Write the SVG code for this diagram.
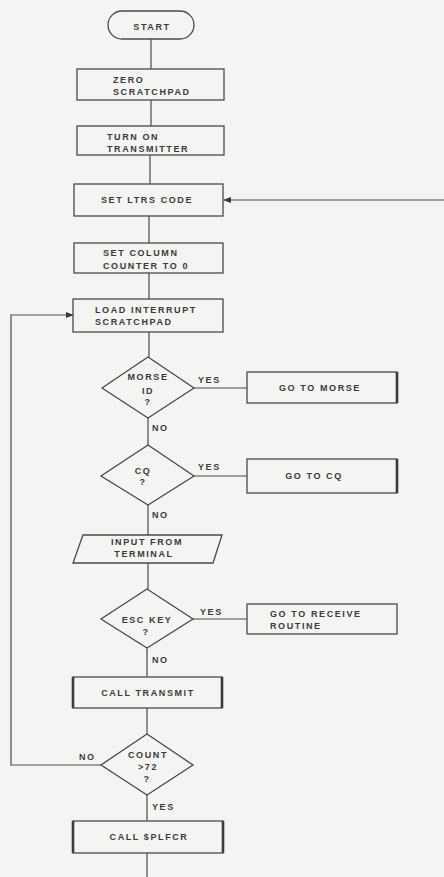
<svg xmlns="http://www.w3.org/2000/svg" width="444" height="877" viewBox="0 0 444 877">
<defs>
<style>
.bg{fill:#f4f4f2}
.n{fill:none;stroke:#4a4a4a;stroke-width:1.3}
.thick{stroke:#3a3a3a;stroke-width:2.6;fill:none}
.c{fill:none;stroke:#4a4a4a;stroke-width:1.2}
text{font-family:"Liberation Sans",Arial,sans-serif;font-size:9px;font-weight:bold;fill:#3a3a3a;letter-spacing:1.6px}
.m{text-anchor:middle}
</style>
<marker id="ah" markerWidth="8" markerHeight="6" refX="7" refY="3" orient="auto" markerUnits="userSpaceOnUse">
<path d="M0,0 L8,3 L0,6 Z" fill="#3a3a3a"/>
</marker>
</defs>
<rect class="bg" x="0" y="0" width="444" height="877"/>

<g id="connectors">
<line class="c" x1="151" y1="39" x2="151" y2="69"/>
<line class="c" x1="151" y1="100" x2="151" y2="126"/>
<line class="c" x1="150" y1="155" x2="150" y2="184"/>
<line class="c" x1="149" y1="216" x2="149" y2="243"/>
<line class="c" x1="149" y1="273" x2="149" y2="299"/>
<line class="c" x1="149" y1="332" x2="149" y2="357"/>
<line class="c" x1="194" y1="388" x2="247" y2="388"/>
<line class="c" x1="148" y1="418" x2="148" y2="445"/>
<line class="c" x1="194" y1="476" x2="247" y2="476"/>
<line class="c" x1="148" y1="505" x2="148" y2="535"/>
<line class="c" x1="148" y1="563" x2="148" y2="589"/>
<line class="c" x1="193" y1="619" x2="247" y2="619"/>
<line class="c" x1="147" y1="648" x2="147" y2="677"/>
<line class="c" x1="147" y1="708" x2="147" y2="734"/>
<polyline class="c" points="101,765 11,765 11,315 73,315" marker-end="url(#ah)"/>
<line class="c" x1="147" y1="795" x2="147" y2="821"/>
<line class="c" x1="147" y1="853" x2="147" y2="877"/>
<line class="c" x1="444" y1="200" x2="224" y2="200" marker-end="url(#ah)"/>
<text x="198" y="383">YES</text>
<text x="152" y="431">NO</text>
<text x="198" y="470">YES</text>
<text x="152" y="518">NO</text>
<text x="200" y="615">YES</text>
<text x="152" y="663">NO</text>
<text x="79" y="760">NO</text>
<text x="152" y="810">YES</text>
</g>

<g id="start">
<rect class="n" x="108" y="11" width="86" height="28" rx="14" ry="14"/>
<text class="m" x="152" y="30">START</text>
</g>
<g id="zero-scratchpad">
<rect class="n" x="77" y="69" width="147" height="31"/>
<text x="113" y="83">ZERO</text>
<text x="113" y="95">SCRATCHPAD</text>
</g>
<g id="turn-on-transmitter">
<rect class="n" x="77" y="126" width="147" height="29"/>
<text x="107" y="140">TURN ON</text>
<text x="107" y="152">TRANSMITTER</text>
</g>
<g id="set-ltrs-code">
<rect class="n" x="74" y="184" width="149" height="32"/>
<text class="m" x="147" y="203">SET LTRS CODE</text>
</g>
<g id="set-column-counter">
<rect class="n" x="74" y="243" width="149" height="30"/>
<text x="103" y="256">SET COLUMN</text>
<text x="103" y="269">COUNTER TO 0</text>
</g>
<g id="load-interrupt">
<rect class="n" x="73" y="299" width="150" height="33"/>
<text x="95" y="313">LOAD INTERRUPT</text>
<text x="95" y="325">SCRATCHPAD</text>
</g>
<g id="morse-id">
<polygon class="n" points="148,357 194,388 148,418 102,388"/>
<text class="m" x="148" y="380">MORSE</text>
<text class="m" x="148" y="394">ID</text>
<text class="m" x="148" y="405">?</text>
</g>
<g id="go-to-morse">
<rect class="n" x="247" y="372" width="150" height="31"/>
<line class="thick" x1="397" y1="372" x2="397" y2="403"/>
<text class="m" x="320" y="391">GO TO MORSE</text>
</g>
<g id="cq">
<polygon class="n" points="148,445 194,476 148,505 101,476"/>
<text class="m" x="143" y="474">CQ</text>
<text class="m" x="143" y="485">?</text>
</g>
<g id="go-to-cq">
<rect class="n" x="247" y="459" width="150" height="34"/>
<line class="thick" x1="397" y1="459" x2="397" y2="493"/>
<text class="m" x="314" y="479">GO TO CQ</text>
</g>
<g id="input-from-terminal">
<polygon class="n" points="83,535 222,535 213,563 73,563"/>
<text class="m" x="147" y="545">INPUT FROM</text>
<text class="m" x="144" y="557">TERMINAL</text>
</g>
<g id="esc-key">
<polygon class="n" points="147,589 193,619 147,648 101,619"/>
<text class="m" x="147" y="623">ESC KEY</text>
<text class="m" x="146" y="635">?</text>
</g>
<g id="go-to-receive">
<rect class="n" x="247" y="604" width="150" height="30"/>
<text x="270" y="617">GO TO RECEIVE</text>
<text x="270" y="629">ROUTINE</text>
</g>
<g id="call-transmit">
<rect class="n" x="73" y="677" width="149" height="31"/>
<line class="thick" x1="73" y1="677" x2="73" y2="708"/>
<line class="thick" x1="222" y1="677" x2="222" y2="708"/>
<text class="m" x="148" y="696">CALL TRANSMIT</text>
</g>
<g id="count-72">
<polygon class="n" points="147,734 193,765 147,795 101,765"/>
<text class="m" x="148" y="758">COUNT</text>
<text class="m" x="148" y="770">&gt;72</text>
<text class="m" x="147" y="782">?</text>
</g>
<g id="call-plfcr">
<rect class="n" x="73" y="821" width="150" height="32"/>
<line class="thick" x1="73" y1="821" x2="73" y2="853"/>
<line class="thick" x1="223" y1="821" x2="223" y2="853"/>
<text class="m" x="149" y="840">CALL $PLFCR</text>
</g>
</svg>
